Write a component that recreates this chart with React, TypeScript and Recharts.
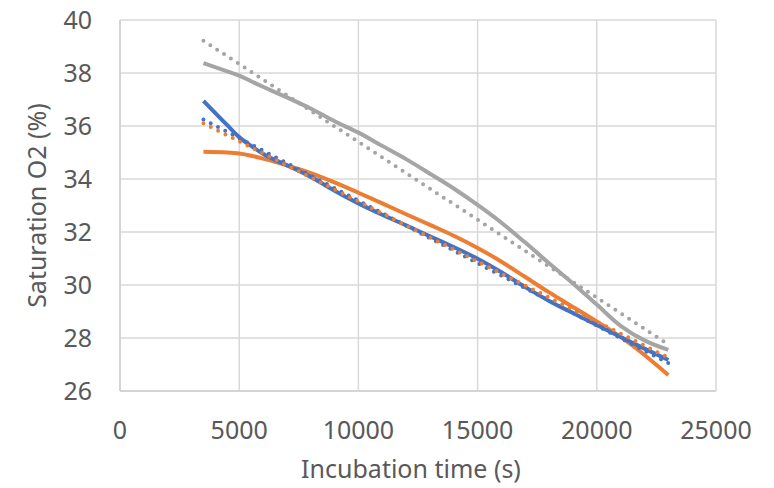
import { CartesianGrid, Line, LineChart, XAxis, YAxis } from "recharts";

// incubation time (s) and O2 saturation (%)
const timeS = [3500, 4500, 5000, 5500, 6000, 6500, 7000, 8000, 9000, 10000, 11000, 12000, 13000, 14000, 15000, 16000, 17000, 18000, 19000, 20000, 21000, 22000, 23000];
const blueSat = [36.95, 36.03, 35.58, 35.25, 34.95, 34.72, 34.52, 34.08, 33.56, 33.08, 32.65, 32.25, 31.84, 31.43, 30.99, 30.48, 29.92, 29.4, 28.94, 28.49, 28.04, 27.6, 27.17];
const orangeSat = [35.03, 35.0, 34.96, 34.88, 34.77, 34.65, 34.51, 34.22, 33.87, 33.48, 33.08, 32.67, 32.27, 31.86, 31.4, 30.88, 30.3, 29.72, 29.17, 28.62, 28.04, 27.36, 26.6];
const graySat = [38.37, 38.06, 37.9, 37.69, 37.48, 37.28, 37.08, 36.66, 36.18, 35.75, 35.25, 34.75, 34.2, 33.64, 33.02, 32.35, 31.6, 30.82, 30.06, 29.26, 28.46, 27.91, 27.55];

// linear trendlines (end points)
const trendX = [3500, 23000];
const blueTrend = [36.25, 27.05];
const orangeTrend = [36.1, 27.26];
const grayTrend = [39.22, 27.76];

const xTicks = [0, 5000, 10000, 15000, 20000, 25000];
const yTicks = [26, 28, 30, 32, 34, 36, 38, 40];

const data = timeS.map((t, i) => {
  const k = trendX.indexOf(t);
  return {
    t,
    blue: blueSat[i],
    orange: orangeSat[i],
    gray: graySat[i],
    blueTrend: k >= 0 ? blueTrend[k] : null,
    orangeTrend: k >= 0 ? orangeTrend[k] : null,
    grayTrend: k >= 0 ? grayTrend[k] : null
  };
});

const font = "'Noto Sans', sans-serif";
const tick = { fill: "#595959", fontSize: 25, fontFamily: font };

export default function App() {
  return (
    <div style={{ position: "absolute", left: 0, top: 0, background: "#fff" }}>
      <LineChart
        width={774}
        height={488}
        data={data}
        margin={{ top: 20, right: 58, bottom: 5, left: 0 }}
      >
        <CartesianGrid stroke="#d9d9d9" strokeWidth={1.5} />
        <XAxis
          dataKey="t"
          type="number"
          domain={[0, 25000]}
          ticks={xTicks}
          height={92}
          tick={tick}
          tickLine={false}
          tickSize={0}
          tickMargin={30}
          axisLine={{ stroke: "#cfcfcf", strokeWidth: 1.5 }}
          label={{
            value: "Incubation time (s)",
            position: "insideBottom",
            offset: 5,
            dx: -7,
            fill: "#595959",
            fontSize: 25,
            fontFamily: font
          }}
        />
        <YAxis
          type="number"
          domain={[26, 40]}
          ticks={yTicks}
          width={120}
          tick={tick}
          tickLine={false}
          tickSize={0}
          tickMargin={28}
          axisLine={{ stroke: "#cfcfcf", strokeWidth: 1.5 }}
          label={{
            value: "Saturation O2 (%)",
            angle: -90,
            position: "insideLeft",
            dx: 32,
            fill: "#595959",
            fontSize: 25,
            fontFamily: font,
            style: { textAnchor: "middle" }
          }}
        />
        <Line type="monotone" dataKey="gray" stroke="#a5a5a5" strokeWidth={4} dot={false} isAnimationActive={false} />
        <Line type="monotone" dataKey="orange" stroke="#ed7d31" strokeWidth={4} dot={false} isAnimationActive={false} />
        <Line type="monotone" dataKey="blue" stroke="#4472c4" strokeWidth={4} dot={false} isAnimationActive={false} />
        <Line type="linear" dataKey="blueTrend" stroke="#4472c4" strokeWidth={4} strokeDasharray="0 8.2" strokeLinecap="round" dot={false} connectNulls isAnimationActive={false} />
        <Line type="linear" dataKey="orangeTrend" stroke="#ed7d31" strokeWidth={4} strokeDasharray="0 8.2" strokeLinecap="round" dot={false} connectNulls isAnimationActive={false} />
        <Line type="linear" dataKey="grayTrend" stroke="#a5a5a5" strokeWidth={4} strokeDasharray="0 8.2" strokeLinecap="round" dot={false} connectNulls isAnimationActive={false} />
      </LineChart>
    </div>
  );
}
